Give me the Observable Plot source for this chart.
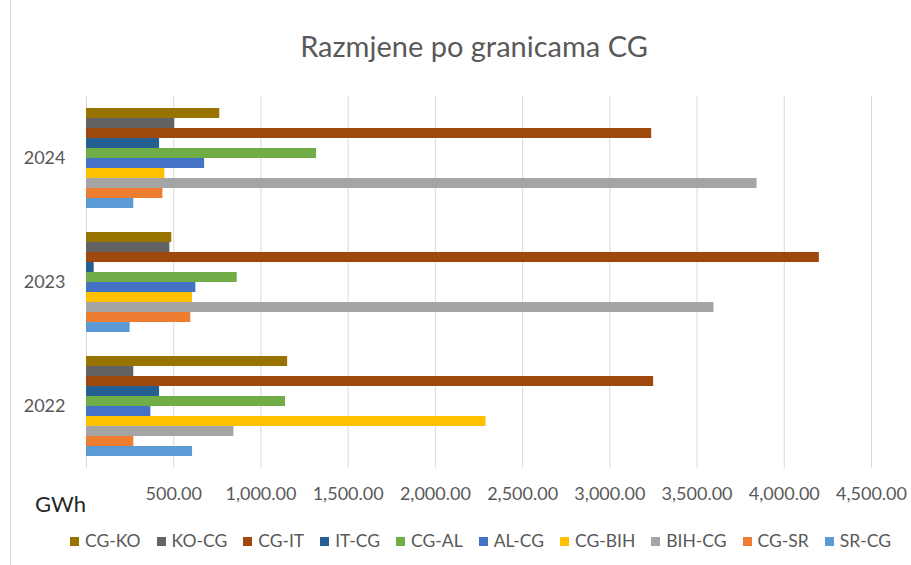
<!DOCTYPE html>
<html>
<head>
<meta charset="utf-8">
<script src="https://cdn.jsdelivr.net/npm/d3@7"></script>
<script src="https://cdn.jsdelivr.net/npm/@observablehq/plot@0.6"></script>
<style>
  html, body { margin: 0; padding: 0; background: #fff; }
  #wrap { position: relative; width: 911px; height: 565px; overflow: hidden; font-family: Lato, "Open Sans", sans-serif; }
  #border { position: absolute; left: 10px; top: 0; width: 0; height: 565px; border-left: 1px solid #d9d9d9; }
  #title { position: absolute; left: 0; top: 27px; width: 948px; text-align: center; font-size: 29px; color: #595959; line-height: 38px; }
  #chart { position: absolute; left: 0; top: 80px; }
  #unit { position: absolute; left: 35px; top: 490px; font-size: 22px; color: #262626; line-height: 28px; }
  #legend { position: absolute; left: 0; top: 530px; width: 961px; display: flex; justify-content: center; gap: 16px; font-size: 17.5px; color: #595959; line-height: 22px; }
  .item { display: flex; align-items: center; }
  .sw { width: 9px; height: 9px; margin-right: 6px; }
</style>
</head>
<body>
<div id="wrap">
  <div id="border"></div>
  <div id="title">Razmjene po granicama CG</div>
  <div id="chart"></div>
  <div id="unit">GWh</div>
  <div id="legend"></div>
</div>
<script>
const years = ["2024", "2023", "2022"];
const series = ["CG-KO", "KO-CG", "CG-IT", "IT-CG", "CG-AL", "AL-CG", "CG-BIH", "BIH-CG", "CG-SR", "SR-CG"];
const colors = ["#997300", "#636363", "#9e480e", "#255e91", "#70ad47", "#4472c4", "#ffc000", "#a5a5a5", "#ed7d31", "#5b9bd5"];
const values2022 = [1153, 271, 3251, 419, 1141, 369, 2290, 845, 271, 608];
const values2023 = [489, 478, 4201, 44, 864, 627, 608, 3597, 598, 250];
const values2024 = [764, 506, 3240, 419, 1319, 677, 449, 3844, 438, 271];
const gridTicks = [0, 500, 1000, 1500, 2000, 2500, 3000, 3500, 4000, 4500];
const labelTicks = [500, 1000, 1500, 2000, 2500, 3000, 3500, 4000, 4500];

const byYear = { "2022": values2022, "2023": values2023, "2024": values2024 };
const rows = [];
for (const y of years) series.forEach((s, i) => rows.push({ year: y, series: s, value: byYear[y][i] }));

const chart = Plot.plot({
  width: 911,
  height: 430,
  marginTop: 15,
  marginBottom: 42,
  marginLeft: 86,
  marginRight: 40,
  style: { fontFamily: "Lato, 'Open Sans', sans-serif", background: "transparent" },
  x: { domain: [0, 4500], axis: null },
  y: { domain: series, paddingInner: 0, paddingOuter: 1.1, axis: null },
  fy: { domain: years, padding: 0, axis: null },
  color: { domain: series, range: colors },
  marks: [
    Plot.gridX(gridTicks, { stroke: "#d9d9d9", strokeOpacity: 1, strokeWidth: 1 }),
    Plot.barX(rows, { x: "value", y: "series", fy: "year", fill: "series" }),
    Plot.axisX({ ticks: labelTicks, tickFormat: d3.format(",.2f"), tickSize: 0, tickPadding: 19, fontSize: 18, fill: "#595959", label: null }),
    Plot.axisFy({ anchor: "left", tickSize: 0, tickPadding: 21, fontSize: 18, fill: "#595959", label: null })
  ]
});
document.getElementById("chart").appendChild(chart);

const legend = document.getElementById("legend");
series.forEach((s, i) => {
  const it = document.createElement("div");
  it.className = "item";
  const sw = document.createElement("div");
  sw.className = "sw";
  sw.style.background = colors[i];
  const t = document.createElement("span");
  t.textContent = s;
  it.appendChild(sw);
  it.appendChild(t);
  legend.appendChild(it);
});
</script>
</body>
</html>
